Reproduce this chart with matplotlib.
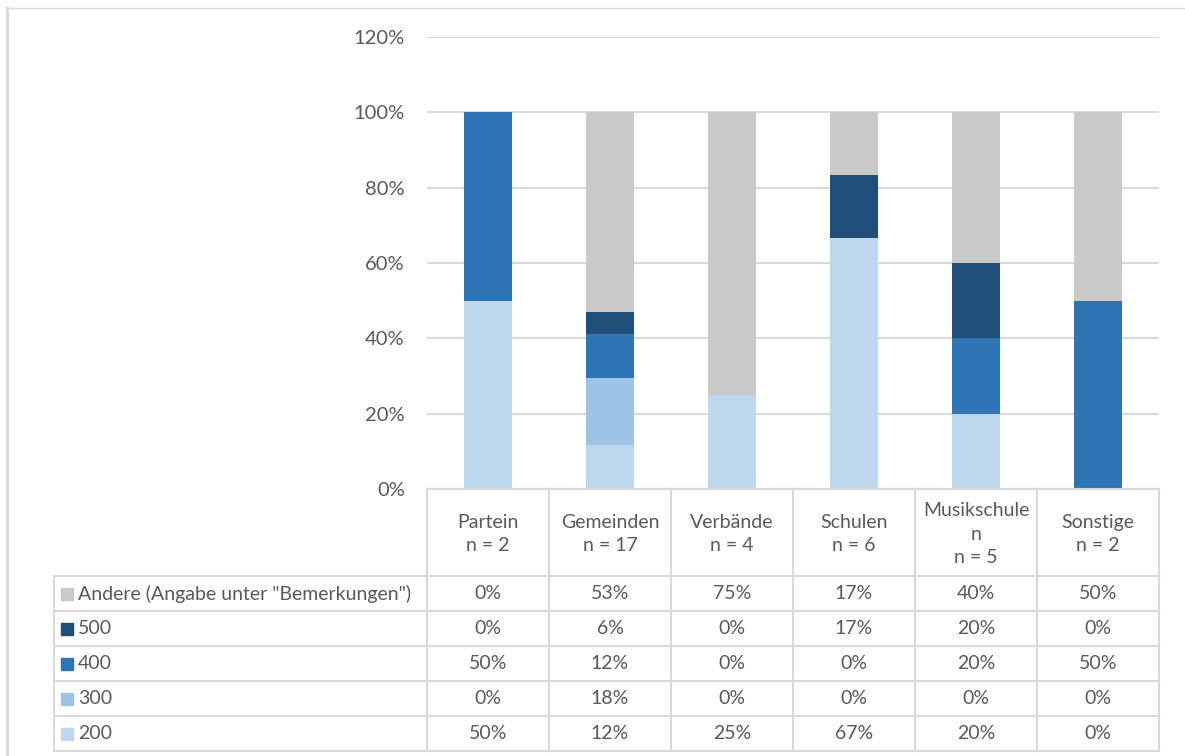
import matplotlib
matplotlib.use("Agg")
import matplotlib.pyplot as plt
from matplotlib.patches import Rectangle
from matplotlib.lines import Line2D

plt.rcParams['font.family'] = ['Lato', 'DejaVu Sans']

# ---- data ----
categories = ["Partein\nn = 2", "Gemeinden\nn = 17", "Verbände\nn = 4",
              "Schulen\nn = 6", "Musikschule\nn\nn = 5", "Sonstige\nn = 2"]
series_names = ["200", "300", "400", "500", 'Andere (Angabe unter "Bemerkungen")']
v200 = [50.0, 11.8, 25.0, 66.7, 20.0, 0.0]
v300 = [0.0, 17.6, 0.0, 0.0, 0.0, 0.0]
v400 = [50.0, 11.8, 0.0, 0.0, 20.0, 50.0]
v500 = [0.0, 5.9, 0.0, 16.7, 20.0, 0.0]
vandere = [0.0, 52.9, 75.0, 16.7, 40.0, 50.0]
series_values = [v200, v300, v400, v500, vandere]
colors = ["#BDD7EE", "#9DC3E6", "#2E75B6", "#1F4E79", "#C9C9C9"]
yticks = [0, 20, 40, 60, 80, 100, 120]

W, H = 1185, 756
fig = plt.figure(figsize=(W / 100, H / 100), dpi=100)
txt = "#595959"
grid = "#D9D9D9"

def fx(px):
    return px / W

def fy(py):
    return 1 - py / H

# ---- chart axes ----
x0, x1 = 427, 1159
ytop, ybot = 37, 489
ax = fig.add_axes([fx(x0), fy(ybot), fx(x1 - x0), (ybot - ytop) / H])
n = len(categories)
xs = list(range(n))
bottom = [0.0] * n
for vals, col, name in zip(series_values, colors, series_names):
    ax.bar(xs, [v / 100 for v in vals], bottom=bottom, width=0.4, color=col,
           label=name, zorder=3)
    bottom = [b + v / 100 for b, v in zip(bottom, vals)]
ax.set_xlim(-0.5, n - 0.5)
ax.set_ylim(0, 1.2)
ax.set_yticks([t / 100 for t in yticks])
ax.set_yticklabels([f"{t}%" for t in yticks], fontsize=14.5, color=txt)
ax.tick_params(axis='y', length=0, pad=16)
ax.set_xticks([])
for s in ax.spines.values():
    s.set_visible(False)
ax.grid(axis='y', color=grid, linewidth=1.5, zorder=0)
ax.set_axisbelow(True)

# ---- data table ----
tx0 = 54
tab = fig.add_axes([fx(tx0), fy(751), fx(x1 - tx0), (751 - 489) / H])
tab.set_xlim(tx0, x1)
tab.set_ylim(751, 489)
tab.axis('off')
colw = (x1 - x0) / n
hdr_bot = 576
rows = [hdr_bot + i * 35 for i in range(6)]
lw = 1.5
fs = 14
for i in range(n + 1):
    xv = x0 + i * colw
    tab.add_line(Line2D([xv, xv], [489, rows[-1]], color=grid, lw=lw, clip_on=False))
tab.add_line(Line2D([tx0, tx0], [hdr_bot, rows[-1]], color=grid, lw=lw, clip_on=False))
tab.add_line(Line2D([x0, x1], [489, 489], color=grid, lw=lw, clip_on=False))
for r in rows:
    tab.add_line(Line2D([tx0, x1], [r, r], color=grid, lw=lw, clip_on=False))

for i, c in enumerate(categories):
    tab.text(x0 + (i + 0.5) * colw, 534, c, ha='center', va='center',
             fontsize=fs, color=txt, linespacing=1.45)

order = list(range(len(series_names)))[::-1]
for ri, si in enumerate(order):
    yc = rows[ri] + 17.5
    tab.add_patch(Rectangle((61, yc - 6), 12, 12, color=colors[si], clip_on=False))
    tab.text(78, yc, series_names[si], ha='left', va='center', fontsize=fs, color=txt)
    for i, v in enumerate(series_values[si]):
        tab.text(x0 + (i + 0.5) * colw, yc, f"{round(v)}%", ha='center', va='center',
                 fontsize=fs, color=txt)

fig.add_artist(Line2D([fx(7), fx(7)], [fy(8), 0], color=grid, lw=2))
fig.add_artist(Line2D([fx(7), 1], [fy(8), fy(8)], color=grid, lw=1))

fig.savefig("out.png", dpi=100)
